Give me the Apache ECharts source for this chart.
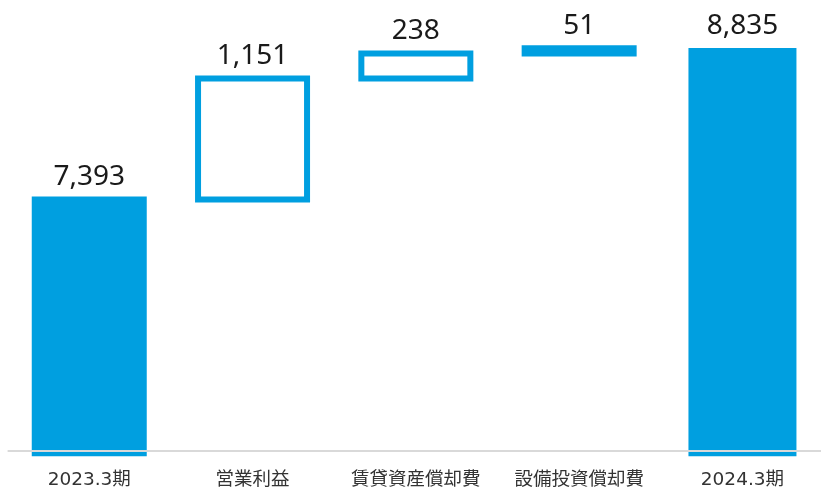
<!DOCTYPE html>
<html>
<head>
<meta charset="utf-8">
<script src="https://cdn.jsdelivr.net/npm/echarts@6/dist/echarts.min.js"></script>
<style>
html,body{margin:0;padding:0;background:#fff;}
#c{width:821px;height:491px;}
</style>
</head>
<body>
<div id="c"></div>
<script>
const categories = ['2023.3期', '営業利益', '賃貸資産償却費', '設備投資償却費', '2024.3期'];
const values = [7393, 1151, 238, 51, 8835];
const kinds = ['total', 'hollow', 'hollow', 'filled', 'total'];
const baselineValue = 5000;
const axisMin = 4950;
const axisMax = 9000;

const BLUE = '#009FE0';
const STROKE = 6;
const FILL_W = 109;   // bar body width (px) for outlined bars
const TOTAL_W = 108;  // last total bar width (no outline)

// floating segments: [categoryIndex, low, high]
const segs = [];
let run = 0;
values.forEach((v, i) => {
  if (kinds[i] === 'total') {
    segs.push([i, axisMin, v]);
    run = v;
  } else {
    segs.push([i, run, run + v]);
    run += v;
  }
});

function renderItem(params, api) {
  const i = params.dataIndex;
  const lo = api.value(1), hi = api.value(2);
  const pTop = api.coord([i, hi]);
  const pBot = api.coord([i, lo]);
  const cx = pTop[0];
  const yTop = pTop[1];
  const yBot = pBot[1];
  const kind = kinds[i];
  const children = [];
  if (kind === 'total' && i === values.length - 1) {
    children.push({
      type: 'rect',
      shape: { x: cx - TOTAL_W / 2, y: yTop, width: TOTAL_W, height: yBot - yTop },
      style: { fill: BLUE }
    });
  } else if (kind === 'hollow') {
    children.push({
      type: 'rect',
      shape: { x: cx - FILL_W / 2, y: yTop, width: FILL_W, height: yBot - yTop },
      style: { fill: '#ffffff', stroke: BLUE, lineWidth: STROKE }
    });
  } else {
    const bottomExt = (lo === axisMin) ? 0 : STROKE / 2;
    children.push({
      type: 'rect',
      shape: {
        x: cx - FILL_W / 2 - STROKE / 2,
        y: yTop - STROKE / 2,
        width: FILL_W + STROKE,
        height: yBot - yTop + STROKE / 2 + bottomExt
      },
      style: { fill: BLUE }
    });
  }
  children.push({
    type: 'text',
    x: cx,
    y: yTop - 8.5,
    style: {
      text: values[i].toLocaleString('en-US'),
      fill: '#1a1a1a',
      fontSize: 28,
      fontFamily: '"Noto Sans", sans-serif',
      align: 'center',
      verticalAlign: 'bottom'
    }
  });
  return { type: 'group', children };
}

const chart = echarts.init(document.getElementById('c'), null, { renderer: 'canvas' });
chart.setOption({
  animation: false,
  backgroundColor: '#ffffff',
  grid: { left: 7.6, top: 30.7, width: 816.5, height: 425.6, containLabel: false, outerBoundsMode: 'none' },
  xAxis: {
    type: 'category',
    data: categories,
    axisLine: { show: false },
    axisTick: { show: false },
    axisLabel: {
      color: '#333333',
      fontSize: 18.5,
      fontFamily: '"DejaVu Sans", "Noto Sans CJK JP", sans-serif',
      margin: 15,
      interval: 0
    }
  },
  yAxis: {
    type: 'value',
    min: axisMin,
    max: axisMax,
    show: false,
    splitLine: { show: false }
  },
  series: [
    {
      type: 'custom',
      renderItem: renderItem,
      encode: { x: 0, y: [1, 2] },
      data: segs,
      z: 2,
      markLine: {
        silent: true,
        symbol: 'none',
        z: 10,
        label: { show: false },
        lineStyle: { color: '#d9d9d9', width: 2, type: 'solid' },
        data: [{ yAxis: baselineValue }]
      }
    }
  ]
});
</script>
</body>
</html>
